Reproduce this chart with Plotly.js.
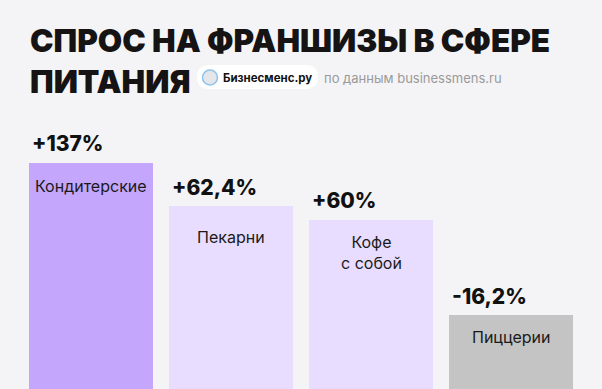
<!DOCTYPE html>
<html><head><meta charset="utf-8">
<script src="https://cdn.plot.ly/plotly-3.0.1.min.js"></script>
<style>html,body{margin:0;padding:0;background:#f4f4f6;}#chart{width:602px;height:389px;}</style>
</head><body><div id="chart"></div>
<script>
// Data
const categories = ["Кондитерские", "Пекарни", "Кофе<br>с собой", "Пиццерии"];
const changeLabels = ["+137%", "+62,4%", "+60%", "-16,2%"];
const changeValues = [137, 62.4, 60, -16.2];
// visual bar heights as drawn in the picture (bars are not to scale with the values)
const barHeights = [226.5, 183, 169.5, 74];
const barColors = ["#c5a6fd", "#e8ddfe", "#e8ddfe", "#c4c4c4"];
const labelOffsets = [23.5, 31, 32.5, 22];

const xs = categories.map((c, i) => i);

const trace = {
  type: "bar",
  x: xs,
  y: barHeights,
  width: 0.88,
  marker: {color: barColors, line: {width: 0}},
  hoverinfo: "skip",
  customdata: changeValues
};

const annotations = [];
xs.forEach((x, i) => {
  annotations.push({
    x: x, y: barHeights[i], xref: "x", yref: "y",
    text: changeLabels[i], showarrow: false,
    xanchor: "left", yanchor: "middle", xshift: -61, yshift: 19,
    font: {family: "Inter, sans-serif", size: 21, color: "#111", weight: 800}
  });
  annotations.push({
    x: x, y: barHeights[i], xref: "x", yref: "y",
    text: categories[i], showarrow: false,
    xanchor: "center", yanchor: "middle", yshift: -labelOffsets[i],
    font: {family: "Inter, sans-serif", size: 16, color: "#1a1a1a"}
  });
});

function px(x){return x/602;}
function py(y){return 1 - y/389;}

// title (two lines) and source
annotations.push({
  xref: "paper", yref: "paper", x: px(28), y: py(61), xanchor: "left", yanchor: "middle", align: "left",
  text: "СПРОС НА ФРАНШИЗЫ В СФЕРЕ<br>ПИТАНИЯ", showarrow: false,
  font: {family: "Inter, sans-serif", size: 31.5, color: "#151313", weight: 900}
});
annotations.push({
  xref: "paper", yref: "paper", x: px(221), y: py(77.5), xanchor: "left", yanchor: "middle",
  text: "Бизнесменс.ру", showarrow: false,
  font: {family: "Inter, sans-serif", size: 11.5, color: "#111", weight: 700}
});
annotations.push({
  xref: "paper", yref: "paper", x: px(322), y: py(77.5), xanchor: "left", yanchor: "middle",
  text: "по данным businessmens.ru", showarrow: false,
  font: {family: "Inter, sans-serif", size: 13, color: "#9a9a9a"}
});

const shapes = [
  {type: "path", xref: "paper", yref: "paper", layer: "below",
   path: "M " + px(209) + "," + py(65) + " L " + px(306) + "," + py(65) +
     " Q " + px(318) + "," + py(65) + " " + px(318) + "," + py(77) +
     " Q " + px(318) + "," + py(89) + " " + px(306) + "," + py(89) +
     " L " + px(209) + "," + py(89) +
     " Q " + px(197) + "," + py(89) + " " + px(197) + "," + py(77) +
     " Q " + px(197) + "," + py(65) + " " + px(209) + "," + py(65) + " Z",
   fillcolor: "#ffffff", line: {width: 0}},
  {type: "circle", xref: "paper", yref: "paper", layer: "above",
   x0: px(202.5), x1: px(217.5), y0: py(85), y1: py(70),
   fillcolor: "#e4e6ea", line: {color: "#8cc3ef", width: 1.5}}
];

const layout = {
  width: 602, height: 389,
  margin: {l: 0, r: 0, t: 0, b: 0},
  paper_bgcolor: "#f4f4f6", plot_bgcolor: "#f4f4f6",
  showlegend: false,
  xaxis: {range: [-0.65, 3.65], visible: false, fixedrange: true},
  yaxis: {range: [0, 389], visible: false, fixedrange: true},
  annotations: annotations,
  shapes: shapes,
  bargap: 0
};

Plotly.newPlot("chart", [trace], layout, {displayModeBar: false, staticPlot: true});
</script>
</body></html>
